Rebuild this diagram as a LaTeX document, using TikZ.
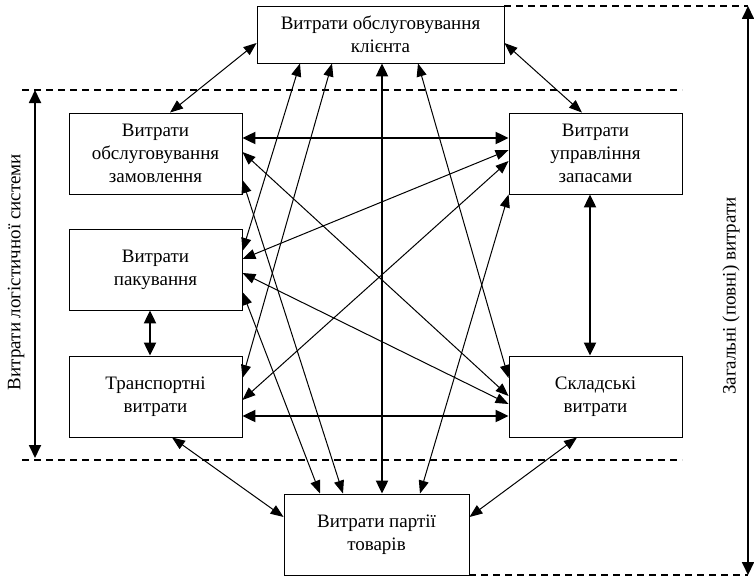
\documentclass[tikz,border=0pt]{standalone}
\usepackage{fontspec}
\setmainfont{Liberation Serif}
\usetikzlibrary{arrows.meta}
\begin{document}
\begin{tikzpicture}[x=1pt,y=-1pt,
  box/.style={draw, line width=0.9pt, align=center, inner sep=0pt,
    font=\fontsize{19}{23}\selectfont, minimum width=173pt, minimum height=81pt},
  lbl/.style={font=\fontsize{19}{23}\selectfont, rotate=90, inner sep=0pt},
  thinarr/.style={line width=1pt, {Triangle[length=13pt,width=10pt]}-{Triangle[length=13pt,width=10pt]}},
  thickarr/.style={line width=2.2pt, {Triangle[length=13pt,width=12pt]}-{Triangle[length=13pt,width=12pt]}},
  dashline/.style={line width=1.4pt, dash pattern=on 7pt off 5pt}]
\useasboundingbox (0,0) rectangle (754,578);

\node[box, minimum width=247pt, minimum height=57pt] (t) at (380.5,34.5) {Витрати обслуговування\\клієнта};
\node[box] (l1) at (155.5,153.5) {Витрати\\обслуговування\\замовлення};
\node[box] (l2) at (155.5,269.5) {Витрати\\пакування};
\node[box] (l3) at (155.5,396.5) {Транспортні\\витрати};
\node[box] (r1) at (595.5,153.5) {Витрати\\управління\\запасами};
\node[box] (r2) at (595.5,396.5) {Складські\\витрати};
\node[box, minimum width=185pt] (b) at (376.5,534.5) {Витрати партії\\товарів};

% dashed limits
\coordinate (dl1) at (22,90);
\coordinate (dr1) at (682,90);
\coordinate (dl2) at (22,460);
\coordinate (dr2) at (682,460);
\coordinate (tr) at (748,6);
\coordinate (br) at (748,575);
\coordinate (tre) at (504,6);
\coordinate (bre) at (469,575);
\draw[dashline] (dl1) -- (dr1);
\draw[dashline] (dl2) -- (dr2);
\draw[dashline] (tre) -- (tr);
\draw[dashline] (bre) -- (br);

% side arrows
\coordinate (la) at (35,90);
\coordinate (lb) at (35,458);
\draw[thickarr, line width=1.8pt] (la) -- (lb);
\draw[thickarr, line width=1.8pt] (tr) -- (br);
\node[lbl] (ll) at (16,272) {Витрати логістичної системи};
\node[lbl] (rl) at (731,296) {Загальні (повні) витрати};

% thick connectors
\draw[thickarr] (l1.east |- 0,138) -- (r1.west |- 0,138);
\draw[thickarr] (l3.east |- 0,416) -- (r2.west |- 0,416);
\draw[thickarr] (150,0 |- l2.south) -- (150,0 |- l3.north);
\draw[thickarr] (590,0 |- r1.south) -- (590,0 |- r2.north);
\draw[thickarr] (382,0 |- t.south) -- (382,0 |- b.north);

% thin connectors
\draw[thinarr] (t.west |- 0,43) -- (170,0 |- l1.north);
\draw[thinarr] (t.east |- 0,43) -- (582,0 |- r1.north);
\draw[thinarr] (172,0 |- l3.south) -- (b.west |- 0,517);
\draw[thinarr] (577,0 |- r2.south) -- (b.east |- 0,517);

\draw[thinarr] (300,0 |- t.south) -- (l2.east |- 0,251);
\draw[thinarr] (332,0 |- t.south) -- (l3.east |- 0,378);
\draw[thinarr] (418,0 |- t.south) -- (r2.west |- 0,378);
\draw[thinarr] (320,0 |- b.north) -- (l2.east |- 0,292);
\draw[thinarr] (343,0 |- b.north) -- (l1.east |- 0,180);
\draw[thinarr] (420,0 |- b.north) -- (r1.south west);
\draw[thinarr] (l1.east |- 0,152) -- (r2.west |- 0,396);
\draw[thinarr] (l2.east |- 0,259) -- (r1.west |- 0,150);
\draw[thinarr] (l2.east |- 0,273) -- (r2.west |- 0,404);
\draw[thinarr] (l3.east |- 0,400) -- (r1.west |- 0,161);
\end{tikzpicture}
\end{document}
